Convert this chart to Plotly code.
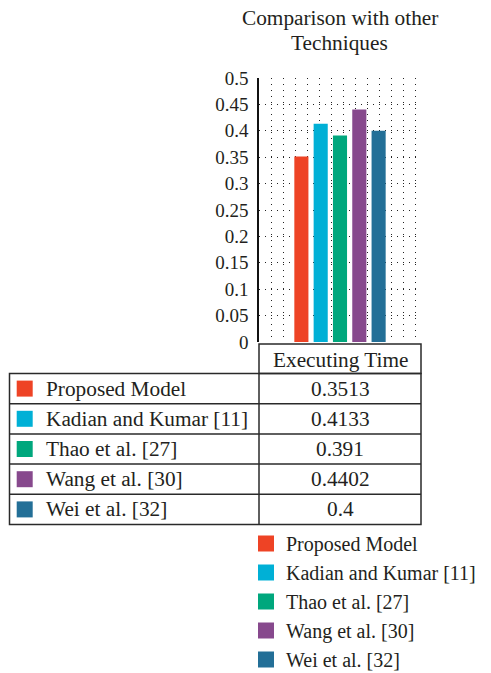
import plotly.graph_objects as go

# ---------------- data ----------------
methods = ["Proposed Model", "Kadian and Kumar [11]", "Thao et al. [27]",
           "Wang et al. [30]", "Wei et al. [32]"]
exec_time = [0.3513, 0.4133, 0.391, 0.4402, 0.4]
value_labels = ["0.3513", "0.4133", "0.391", "0.4402", "0.4"]
category = "Executing Time"
colors = ["#EE4325", "#00B0D6", "#00A77D", "#87498D", "#236F97"]
y_ticks = [0, 0.05, 0.1, 0.15, 0.2, 0.25, 0.3, 0.35, 0.4, 0.45, 0.5]
y_tick_labels = ["0", "0.05", "0.1", "0.15", "0.2", "0.25", "0.3", "0.35", "0.4", "0.45", "0.5"]
title_lines = ["Comparison with other", "Techniques"]

# ---------------- geometry (pixels) ----------------
W, H = 491, 673
FONT = "Liberation Serif"
TXT = "#231F20"
TEXT_SIZE = 21.3


def px(x):
    return x / W


def py(y):
    return 1 - y / H


PLOT_L, PLOT_R, PLOT_T, PLOT_B = 259, 421, 78, 342
TBL_L, TBL_M, TBL_R = 9.5, 259, 421
HDR_T, HDR_B = 344, 373.5
ROW_H = 30.2

fig = go.Figure()

for name, val, col in zip(methods, exec_time, colors):
    fig.add_trace(go.Bar(x=[category], y=[val], name=name, marker_color=col,
                         marker_line_width=0, showlegend=False,
                         xaxis="x", yaxis="y"))

# legend proxies (square symbols) on the overlay axis
for name, col in zip(methods, colors):
    fig.add_trace(go.Scatter(x=[None], y=[None], mode="markers", name=name,
                             marker=dict(symbol="square", size=16, color=col,
                                         line=dict(width=0)),
                             xaxis="x2", yaxis="y"))

shapes = []
annotations = []
line_style = dict(color="#2a2a2a", width=1.5)

# header cell
shapes.append(dict(type="rect", xref="paper", yref="paper",
                   x0=px(TBL_M), x1=px(TBL_R), y0=py(HDR_T), y1=py(HDR_B),
                   line=line_style, fillcolor="rgba(0,0,0,0)", layer="above"))
annotations.append(dict(xref="paper", yref="paper", x=px((TBL_M + TBL_R) / 2),
                        y=py((HDR_T + HDR_B) / 2 + 1), text=category, showarrow=False,
                        xanchor="center", yanchor="middle",
                        font=dict(family=FONT, size=TEXT_SIZE, color=TXT)))

body_bottom = HDR_B + ROW_H * len(methods)
shapes.append(dict(type="rect", xref="paper", yref="paper",
                   x0=px(TBL_L), x1=px(TBL_R), y0=py(HDR_B), y1=py(body_bottom),
                   line=line_style, fillcolor="rgba(0,0,0,0)", layer="above"))
shapes.append(dict(type="line", xref="paper", yref="paper",
                   x0=px(TBL_M), x1=px(TBL_M), y0=py(HDR_B), y1=py(body_bottom),
                   line=line_style, layer="above"))
for i, (name, lab, col) in enumerate(zip(methods, value_labels, colors)):
    top = HDR_B + ROW_H * i
    cy = top + ROW_H / 2
    if i > 0:
        shapes.append(dict(type="line", xref="paper", yref="paper",
                           x0=px(TBL_L), x1=px(TBL_R), y0=py(top), y1=py(top),
                           line=line_style, layer="above"))
    shapes.append(dict(type="rect", xref="paper", yref="paper",
                       x0=px(16.7), x1=px(32.7), y0=py(cy - 8), y1=py(cy + 8),
                       line=dict(width=0), fillcolor=col, layer="above"))
    annotations.append(dict(xref="paper", yref="paper", x=px(44), y=py(cy),
                            text=name, showarrow=False, xanchor="left", yanchor="middle",
                            font=dict(family=FONT, size=TEXT_SIZE, color=TXT)))
    annotations.append(dict(xref="paper", yref="paper", x=px((TBL_M + TBL_R) / 2),
                            y=py(cy), text=lab, showarrow=False,
                            xanchor="center", yanchor="middle",
                            font=dict(family=FONT, size=TEXT_SIZE, color=TXT)))

# title (two lines, controlled spacing)
for k, line in enumerate(title_lines):
    annotations.append(dict(xref="paper", yref="paper", x=px(339.5), y=py(18 + 25 * k),
                            text=line, showarrow=False, xanchor="center",
                            yanchor="middle",
                            font=dict(family=FONT, size=TEXT_SIZE, color=TXT)))

grid_dash = "1px,5px"
fig.update_layout(
    width=W, height=H,
    margin=dict(l=0, r=0, t=0, b=0, autoexpand=False),
    paper_bgcolor="white", plot_bgcolor="white",
    barmode="group", bargap=0.404, bargroupgap=0.27,
    font=dict(family=FONT, size=20, color=TXT),
    xaxis=dict(domain=[px(PLOT_L), px(PLOT_R)], showticklabels=False,
               showgrid=False, zeroline=False, showline=False, ticks="",
               fixedrange=True),
    xaxis2=dict(overlaying="x", range=[0, (PLOT_R - PLOT_L) / 12], tick0=0, dtick=1,
                showticklabels=False, showgrid=True, gridcolor="#222",
                gridwidth=1, griddash=grid_dash, zeroline=False, showline=False,
                ticks=""),
    yaxis=dict(domain=[py(PLOT_B), py(PLOT_T)], range=[0, 0.5],
               tickvals=y_ticks, ticktext=y_tick_labels,
               showgrid=True, gridcolor="#222", gridwidth=1, griddash=grid_dash,
               zeroline=False, showline=True, linecolor="#111", linewidth=1.5,
               ticks="", ticklabelstandoff=5,
               tickfont=dict(family=FONT, size=19, color=TXT)),
    legend=dict(x=px(246), y=py(524), xanchor="left", yanchor="top",
                bgcolor="rgba(0,0,0,0)", borderwidth=0,
                font=dict(family=FONT, size=20, color=TXT),
                tracegroupgap=0),
    shapes=shapes,
    annotations=annotations,
)

fig.write_html("out.html", config={"displayModeBar": False},
               post_script="document.body.style.margin='0';document.body.style.padding='0';")
